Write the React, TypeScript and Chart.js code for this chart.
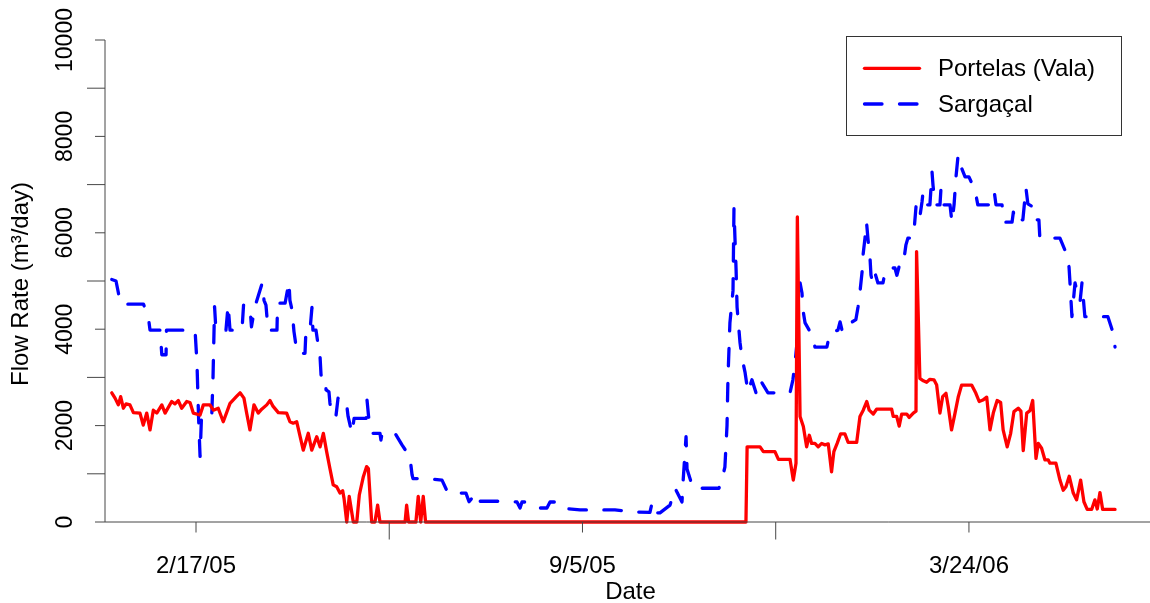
import React, { useEffect, useRef } from "react";
import { Chart, registerables } from "chart.js";

Chart.register(...registerables);

// x values are days counted from 2/17/05
const xTickDays = [0, 200, 400];
const xTickLabels = ["2/17/05", "9/5/05", "3/24/06"];
const xSeparatorDays = [100, 300, 500];
const yTickValues = [0, 2000, 4000, 6000, 8000, 10000];
const ySeparatorValues = [1000, 3000, 5000, 7000, 9000];
const xRange = [-47.1, 493.7];
const yRange = [0, 10000];

const seriesLabels = ["Portelas (Vala)", "Sargaçal"];
const seriesColors = ["#FF0000", "#0000FF"];

const portelasDays = [
  -43.6, -41.9, -40.2, -39.0, -37.6, -36.2, -34.2, -32.4, -29.0, -27.3, -25.5, -23.8, -22.1, -20.3, -17.7,
  -16.0, -12.6, -10.9, -9.2, -7.4, -4.8, -3.1, -1.4, 2.1, 3.8, 7.2, 9.0, 11.5, 14.1, 17.6, 21.1, 22.8, 24.8,
  26.2, 27.9, 30.0, 32.2, 34.0, 36.6, 38.3, 39.7, 42.6, 46.9, 48.6, 50.3, 52.1, 55.5, 58.1, 59.9, 62.5, 64.2,
  65.9, 67.6, 69.3, 71.0, 72.8, 74.5, 75.9, 76.6, 78.0, 79.3, 81.4, 83.2, 84.5, 86.6, 88.3, 89.2, 90.9, 92.6,
  94.0, 95.2, 108.2, 109.0, 110.0, 113.8, 115.0, 116.3, 117.6, 118.8, 284.6, 285.2, 291.9, 293.6, 299.6,
  301.4, 307.4, 309.1, 310.5, 311.2, 312.6, 314.3, 316.0, 317.4, 318.6, 320.3, 322.0, 323.8, 325.5, 327.2,
  328.9, 330.1, 331.8, 333.6, 335.8, 337.5, 341.9, 343.6, 345.3, 347.1, 348.4, 350.5, 352.2, 360.0, 360.8,
  362.6, 363.9, 365.2, 367.8, 369.1, 371.2, 372.6, 372.9, 374.6, 376.4, 378.1, 379.8, 381.9, 383.3, 385.0,
  386.4, 388.1, 389.3, 391.0, 392.8, 394.5, 396.2, 401.4, 403.6, 405.3, 407.2, 409.2, 410.9, 412.6, 414.6,
  416.4, 417.7, 419.8, 421.6, 423.3, 425.5, 426.9, 428.1, 429.9, 431.6, 433.0, 434.7, 435.9, 437.6, 439.3,
  441.0, 441.9, 445.0, 447.1, 448.8, 450.2, 451.9, 454.0, 455.7, 457.8, 459.5, 461.2, 463.5, 465.2, 466.4,
  467.8, 469.2, 475.6,
];
const portelasFlow = [
  2680, 2570, 2430, 2600, 2360, 2450, 2430, 2270, 2260, 2010, 2260, 1910, 2320, 2260, 2430,
  2260, 2500, 2450, 2520, 2360, 2500, 2480, 2260, 2220, 2430, 2430, 2320, 2360, 2080, 2460, 2610, 2680, 2570,
  2260, 1910, 2430, 2260, 2340, 2430, 2520, 2410, 2270, 2260, 2080, 2050, 2080, 1490, 1840, 1490, 1770, 1560,
  1840, 1460, 1110, 770, 730, 600, 650, 490, 0, 530, 0, 0, 560, 940, 1150, 1110, 0, 0,
  350, 0, 0, 350, 0, 0, 530, 0, 530, 0, 0, 1560, 1560, 1460, 1460,
  1300, 1300, 870, 1220, 6330, 2190, 1980, 1560, 1800, 1630, 1630, 1560, 1630, 1600, 1620,
  1040, 1460, 1630, 1830, 1830, 1650, 1650, 2190, 2320, 2500, 2320, 2240, 2340, 2340, 2190,
  2190, 1990, 2240, 2240, 2170, 2260, 2300, 5610, 2980, 2930, 2900, 2960, 2950, 2840, 2260,
  2600, 2670, 2390, 1910, 2260, 2600, 2840, 2840, 2670, 2500, 2530, 2590, 1910, 2260, 2520,
  2480, 1910, 1560, 1840, 2290, 2360, 2300, 1480, 2260, 2310, 2520, 1320, 1630, 1530, 1290,
  1290, 1220, 1220, 870, 660, 730, 950, 600, 460, 870, 420, 260, 260, 460, 270,
  610, 260, 260,
];

const sargacalDays = [
  -43.6, -41.4, -40.1, -38.8, -27.2, -24.7, -23.8, -18.6, -17.7, -15.5, -15.3, -0.5, 0.5, 1.3, 2.1, 2.8, 8.1,
  8.8, 9.6, 10.3, 15.5, 16.6, 17.6, 23.8, 24.6, 26.9, 27.9, 28.7, 30.5, 34.2, 35.2, 36.2, 37.3, 41.9, 42.2,
  46.1, 48.1, 48.6, 49.7, 50.7, 52.3, 56.4, 56.9, 59.0, 60.0, 60.5, 62.1, 63.1, 64.2, 64.7, 66.8, 67.3, 68.8,
  69.3, 70.4, 72.4, 73.5, 74.5, 78.1, 78.7, 80.7, 81.8, 88.0, 88.5, 89.3, 91.1, 95.2, 95.7, 96.3, 103.0,
  106.6, 110.7, 111.8, 112.3, 118.5, 127.3, 130.4, 139.7, 141.3, 144.9, 146.4, 157.3, 166.1, 167.7, 168.7,
  172.8, 178.0, 181.6, 183.2, 185.8, 188.4, 198.7, 216.8, 225.6, 234.9, 236.0, 236.5, 240.1, 245.3, 247.9,
  251.5, 252.0, 253.6, 254.1, 257.2, 270.6, 271.7, 273.7, 274.8, 275.3, 276.3, 277.9, 278.4, 278.9, 279.5,
  280.0, 281.5, 282.5, 284.1, 285.6, 287.7, 289.8, 291.9, 296.0, 307.4, 308.9, 310.0, 311.0, 311.5, 312.6,
  313.6, 314.1, 315.2, 318.8, 320.3, 326.5, 328.1, 329.1, 332.2, 333.3, 334.3, 338.4, 339.5, 341.5, 342.6,
  343.6, 344.7, 345.2, 346.2, 347.0, 347.8, 348.8, 349.3, 350.3, 351.4, 352.9, 355.5, 356.5, 357.6, 361.7,
  362.7, 363.8, 365.8, 367.4, 368.4, 371.0, 371.5, 372.6, 373.6, 374.6, 375.7, 376.2, 377.2, 379.8, 380.9,
  381.4, 382.4, 385.0, 385.5, 386.6, 390.2, 391.2, 392.3, 393.3, 394.4, 395.9, 398.0, 400.0, 403.1, 404.6,
  412.4, 413.2, 414.0, 417.1, 418.6, 422.3, 423.0, 423.8, 424.8, 427.9, 429.5, 430.5, 433.1, 434.1, 436.2,
  436.7, 447.1, 449.7, 451.8, 452.3, 453.3, 454.9, 456.4, 457.5, 458.5, 460.0, 471.9, 474.5, 475.6,
];
const sargacalFlow = [
  5030, 5000, 4740, 4520, 4520, 4260, 3980, 3980, 3470, 3470, 3980, 3980, 3300, 2200, 1360, 2150, 2150,
  3000, 4470, 3980, 3980, 4500, 3980, 3980, 4500, 4500, 4470, 4050, 4470, 4950, 4600, 4500, 3980, 3980, 4540,
  4540, 4980, 4600, 4400, 3950, 3500, 3500, 3980, 3980, 4450, 3980, 3980, 3700, 3420, 3050, 3050, 2740, 2700,
  2470, 2190, 2190, 2570, 2390, 2390, 2190, 1840, 2150, 2150, 2530, 2190, 1840, 1840, 1700, 1840, 1840,
  1600, 1350, 980, 900, 900, 870, 600, 600, 420, 600, 430, 430, 415, 290, 415,
  415, 290, 290, 415, 415, 290, 250, 250, 210, 200, 390, 190, 190, 350, 700,
  415, 800, 1770, 1100, 700, 700, 800, 1140, 2000, 3000, 4130, 4800, 6500, 5900, 5230,
  4460, 3730, 3420, 3110, 2700, 2950, 2680, 2950, 2680, 2680, 2950, 3300, 3710, 4460, 4960,
  4750, 4400, 4130, 3880, 3630, 3630, 3940, 3940, 3980, 4150, 3980, 3980, 4150, 4200, 4460,
  4770, 5190, 5540, 5890, 6220, 5850, 5480, 5120, 4960, 5160, 4960, 4960, 5160, 5270, 5270,
  5120, 5290, 5290, 5750, 5890, 5890, 6000, 6540, 6300, 6330, 6640, 6820, 6580, 6580, 7260,
  6990, 6580, 6580, 6900, 6580, 6580, 6220, 6580, 7160, 7610, 7370, 7160, 7160, 6890, 6580,
  6580, 6820, 6580, 6580, 6220, 6220, 6430, 6220, 6270, 6270, 6930, 6600, 6540, 6270, 6270,
  5890, 5890, 5640, 5290, 4960, 4260, 4960, 4700, 4570, 4960, 4260, 4260, 3940, 3630,
];

const FONT = "'Liberation Sans', Arial, Helvetica, sans-serif";
const AXIS_COLOR = "#474747";

const rAxesPlugin = {
  id: "rAxes",
  afterDraw(chart: any) {
    const { ctx, chartArea: ca, scales } = chart;
    const xs = scales.x;
    const ys = scales.y;
    ctx.save();
    ctx.strokeStyle = AXIS_COLOR;
    ctx.lineWidth = 1;
    ctx.fillStyle = "#000";

    // y axis
    const ax = ca.left;
    ctx.beginPath();
    ctx.moveTo(ax, ys.getPixelForValue(yRange[1]));
    ctx.lineTo(ax, ys.getPixelForValue(yRange[0]));
    yTickValues.forEach((v) => {
      const py = ys.getPixelForValue(v);
      ctx.moveTo(ax - 10, py);
      ctx.lineTo(ax, py);
    });
    ySeparatorValues.forEach((v) => {
      const py = ys.getPixelForValue(v);
      ctx.moveTo(ax - 18, py);
      ctx.lineTo(ax, py);
    });
    // x axis
    const ay = ca.bottom;
    ctx.moveTo(ca.left, ay);
    ctx.lineTo(ca.right, ay);
    xTickDays.forEach((d) => {
      const px = xs.getPixelForValue(d);
      ctx.moveTo(px, ay);
      ctx.lineTo(px, ay + 10.5);
    });
    xSeparatorDays.forEach((d) => {
      const px = xs.getPixelForValue(d);
      if (px <= ca.right) {
        ctx.moveTo(px, ay);
        ctx.lineTo(px, ay + 17.5);
      }
    });
    ctx.stroke();

    // y tick labels (rotated)
    ctx.font = `23px ${FONT}`;
    ctx.textAlign = "center";
    ctx.textBaseline = "alphabetic";
    yTickValues.forEach((v) => {
      const py = ys.getPixelForValue(v);
      ctx.save();
      ctx.translate(ax - 33, py);
      ctx.rotate(-Math.PI / 2);
      ctx.fillText(String(v), 0, 0);
      ctx.restore();
    });

    // x tick labels
    ctx.font = `24px ${FONT}`;
    xTickDays.forEach((d, i) => {
      ctx.fillText(xTickLabels[i], xs.getPixelForValue(d), ay + 51);
    });

    // axis titles
    ctx.fillText("Date", (ca.left + ca.right) / 2 + 3, ay + 77);
    ctx.save();
    ctx.translate(28, (ca.top + ca.bottom) / 2 + 3);
    ctx.rotate(-Math.PI / 2);
    ctx.fillText("Flow Rate (m³/day)", 0, 0);
    ctx.restore();

    // legend
    const bx = ca.right - 303.5;
    const by = ca.top - 3.5;
    const bw = 275;
    const bh = 99;
    ctx.strokeStyle = "#333";
    ctx.lineWidth = 1;
    ctx.strokeRect(bx, by, bw, bh);
    const rows = [by + 31.8, by + 67.5];
    chart.data.datasets.forEach((ds: any, i: number) => {
      const ly = rows[i];
      ctx.save();
      ctx.strokeStyle = ds.borderColor;
      ctx.lineWidth = ds.borderWidth;
      ctx.lineCap = "round";
      ctx.setLineDash(ds.borderDash || []);
      ctx.beginPath();
      ctx.moveTo(bx + 18, ly);
      ctx.lineTo(bx + 73, ly);
      ctx.stroke();
      ctx.restore();
      ctx.font = `24px ${FONT}`;
      ctx.textAlign = "left";
      ctx.fillStyle = "#000";
      ctx.fillText(ds.label, bx + 91.5, ly + 7.5);
    });
    ctx.restore();
  },
};

export default function App() {
  const canvasRef = useRef<HTMLCanvasElement | null>(null);

  useEffect(() => {
    const canvas = canvasRef.current;
    if (!canvas) return;
    const chart = new Chart(canvas, {
      type: "line",
      data: {
        datasets: [
          {
            label: seriesLabels[0],
            data: portelasDays.map((d, i) => ({ x: d, y: portelasFlow[i] })),
            borderColor: seriesColors[0],
            backgroundColor: seriesColors[0],
            borderWidth: 3.3,
            pointRadius: 0,
            tension: 0,
            fill: false,
            borderJoinStyle: "round",
            borderCapStyle: "round",
            clip: false,
          },
          {
            label: seriesLabels[1],
            data: sargacalDays.map((d, i) => ({ x: d, y: sargacalFlow[i] })),
            borderColor: seriesColors[1],
            backgroundColor: seriesColors[1],
            borderWidth: 3.3,
            borderDash: [17.5, 17.5],
            pointRadius: 0,
            tension: 0,
            fill: false,
            borderJoinStyle: "round",
            borderCapStyle: "round",
            clip: false,
          },
        ],
      },
      options: {
        animation: false,
        responsive: false,
        devicePixelRatio: 1,
        layout: { padding: { left: 105, top: 40, right: 0, bottom: 81 } },
        scales: {
          x: { type: "linear", min: xRange[0], max: xRange[1], display: false },
          y: { type: "linear", min: yRange[0], max: yRange[1], display: false },
        },
        plugins: { legend: { display: false }, tooltip: { enabled: false } },
      } as any,
      plugins: [rAxesPlugin],
    });
    return () => chart.destroy();
  }, []);

  return (
    <div style={{ position: "absolute", left: 0, top: 0, width: 1150, height: 603, background: "#fff" }}>
      <canvas ref={canvasRef} width={1150} height={603} />
    </div>
  );
}
